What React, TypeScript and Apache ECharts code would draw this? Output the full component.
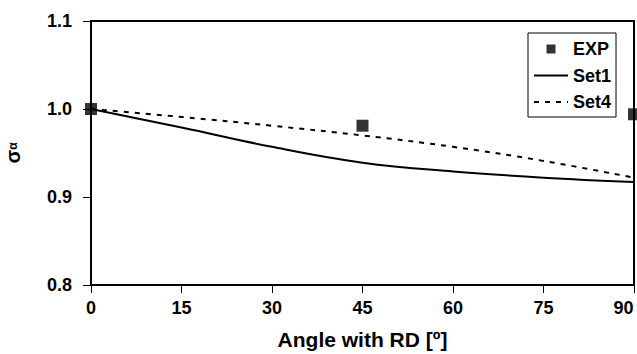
import React, { useEffect, useRef } from "react";
import * as echarts from "echarts";

const angles = [0, 15, 30, 45, 60, 75, 90];
const set1 = [1.0, 0.979, 0.957, 0.939, 0.929, 0.922, 0.917];
const set4 = [1.0, 0.991, 0.981, 0.970, 0.957, 0.941, 0.922];
const expAngles = [0, 45, 90];
const expValues = [1.0, 0.981, 0.994];
const xTicks = [0, 15, 30, 45, 60, 75, 90];
const yTicks = [0.8, 0.9, 1.0, 1.1];

const FONT = "'Liberation Sans', Arial, Helvetica, sans-serif";

export default function App() {
  const ref = useRef<HTMLDivElement>(null);
  useEffect(() => {
    if (!ref.current) return;
    const chart = echarts.init(ref.current, null, { renderer: "svg" });
    chart.setOption({
      animation: false,
      backgroundColor: "#fff",
      textStyle: { fontFamily: FONT },
      grid: {
        left: 91,
        right: 3,
        top: 21,
        bottom: 69,
        containLabel: false,
        outerBoundsMode: "none",
        show: true,
        borderColor: "#000",
        borderWidth: 2,
      },
      legend: {
        orient: "vertical",
        left: 528,
        top: 33,
        padding: [7, 5, 6, 5],
        itemWidth: 34,
        itemHeight: 9,
        itemGap: 8.5,
        borderColor: "#000",
        borderWidth: 1,
        backgroundColor: "#fff",
        textStyle: { fontFamily: FONT, fontWeight: "bold", fontSize: 18, color: "#000" },
        data: [
          { name: "EXP", icon: "path://M0,0M34,9M12.5,0h9v9h-9z" },
          { name: "Set1", itemStyle: { opacity: 0 } },
          { name: "Set4", itemStyle: { opacity: 0 } },
        ],
      },
      xAxis: {
        type: "value",
        min: 0,
        max: 90,
        interval: 15,
        name: "Angle with RD [º]",
        nameLocation: "middle",
        nameGap: 44,
        nameTextStyle: { fontFamily: FONT, fontWeight: "bold", fontSize: 21, color: "#000" },
        axisLine: { show: true, lineStyle: { color: "#000", width: 2 } },
        axisTick: { show: true, inside: false, length: 8, lineStyle: { color: "#000", width: 1 } },
        axisLabel: {
          margin: 14,
          fontFamily: FONT,
          fontWeight: "bold",
          fontSize: 18,
          color: "#000",
          formatter: (v: number) =>
            xTicks.includes(v) ? (v === xTicks[xTicks.length - 1] ? "{r|" + v + "}" : String(v)) : "",
          rich: {
            r: { fontFamily: FONT, fontWeight: "bold", fontSize: 18, color: "#000", padding: [0, 21, 0, 0] },
          },
        },
        splitLine: { show: false },
      },
      yAxis: {
        type: "value",
        min: yTicks[0],
        max: yTicks[yTicks.length - 1],
        interval: 0.1,
        name: "{s|σ}{a|α}",
        nameLocation: "middle",
        nameRotate: 90,
        nameGap: 66,
        nameTextStyle: {
          rich: {
            s: { fontFamily: FONT, fontWeight: "bold", fontSize: 20, color: "#000", lineHeight: 24, verticalAlign: "middle" },
            a: { fontFamily: FONT, fontWeight: "bold", fontSize: 12, color: "#000", lineHeight: 24, verticalAlign: "middle" },
          },
        },
        axisLine: { show: true, lineStyle: { color: "#000", width: 2 } },
        axisTick: { show: true, inside: false, length: 8, lineStyle: { color: "#000", width: 1 } },
        axisLabel: {
          margin: 19,
          fontFamily: FONT,
          fontWeight: "bold",
          fontSize: 18,
          color: "#000",
          formatter: (v: number) => v.toFixed(1),
        },
        splitLine: { show: false },
      },
      series: [
        {
          name: "EXP",
          type: "scatter",
          symbol: "rect",
          symbolSize: 12,
          clip: false,
          itemStyle: { color: "#000" },
          data: expAngles.map((a, i) => [a, expValues[i]]),
          z: 5,
        },
        {
          name: "Set1",
          type: "line",
          smooth: 0.4,
          symbol: "none",
          showSymbol: false,
          lineStyle: { color: "#000", width: 2, type: "solid" },
          itemStyle: { color: "#000" },
          data: angles.map((a, i) => [a, set1[i]]),
        },
        {
          name: "Set4",
          type: "line",
          smooth: 0.4,
          symbol: "none",
          showSymbol: false,
          lineStyle: { color: "#000", width: 2, type: [5, 6] },
          itemStyle: { color: "#000" },
          data: angles.map((a, i) => [a, set4[i]]),
        },
      ],
    });
    return () => chart.dispose();
  }, []);
  return <div ref={ref} style={{ width: 637, height: 354, position: "absolute", left: 0, top: 0 }} />;
}
